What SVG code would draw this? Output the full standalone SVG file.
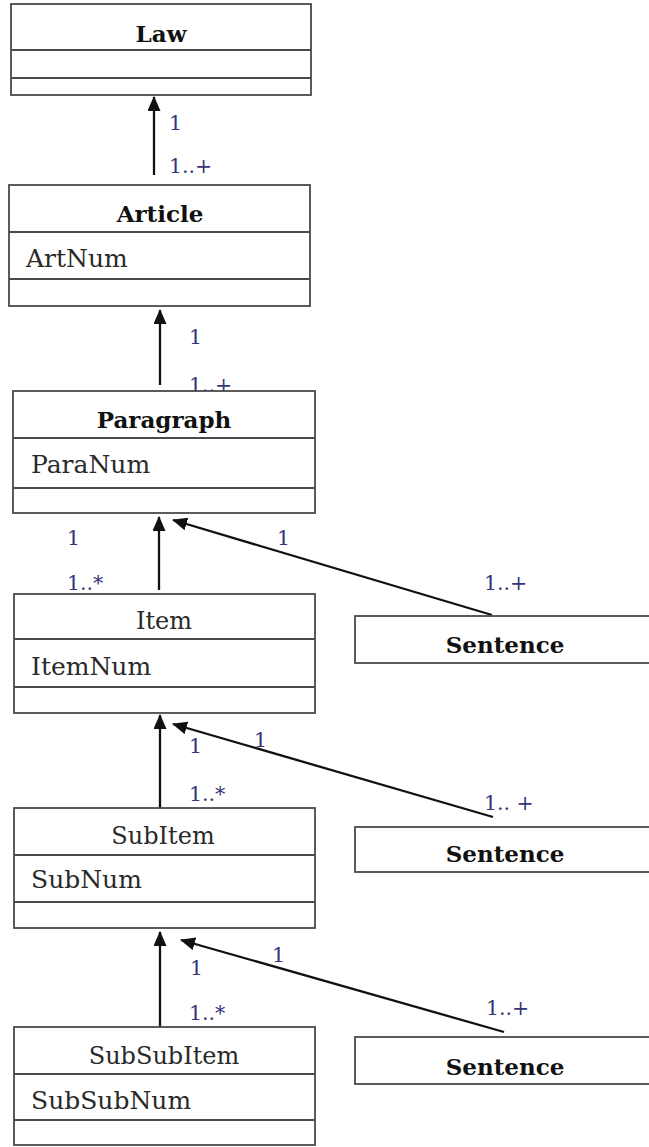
<svg xmlns="http://www.w3.org/2000/svg" width="649" height="1147" viewBox="0 0 649 1147">
  <style>
    .box { fill: #ffffff; stroke: #4a4a4a; stroke-width: 1.8; }
    .div { stroke: #4a4a4a; stroke-width: 1.8; }
    .title { font-family: "DejaVu Serif", "Liberation Serif", serif; font-size: 23px; font-weight: bold; fill: #111111; text-anchor: middle; }
    .name { font-family: "DejaVu Serif", "Liberation Serif", serif; font-size: 24px; fill: #2a2a2a; text-anchor: middle; }
    .attr { font-family: "DejaVu Serif", "Liberation Serif", serif; font-size: 25px; fill: #2a2a2a; }
    .mult { font-family: "DejaVu Serif", "Liberation Serif", serif; font-size: 20.5px; fill: #35357a; }
    .edge { stroke: #111111; stroke-width: 2.3; fill: none; marker-end: url(#head); }
  </style>
  <defs>
    <marker id="head" markerUnits="userSpaceOnUse" markerWidth="15" markerHeight="13" refX="14" refY="6.5" orient="auto">
      <path d="M0,0 L15,6.5 L0,13 z" fill="#111111"/>
    </marker>
  </defs>

  <rect width="649" height="1147" fill="#ffffff"/>

  <!-- associations: child -> parent, with multiplicities -->
  <g id="connectors">
    <line class="edge" x1="154" y1="175" x2="154" y2="97"/>
    <line class="edge" x1="160" y1="385" x2="160" y2="310"/>
    <line class="edge" x1="159" y1="590" x2="159" y2="517"/>
    <line class="edge" x1="492" y1="615" x2="173" y2="520"/>
    <line class="edge" x1="160" y1="808" x2="160" y2="715"/>
    <line class="edge" x1="493" y1="817" x2="173" y2="724"/>
    <line class="edge" x1="160" y1="1027" x2="160" y2="932"/>
    <line class="edge" x1="504" y1="1032" x2="181" y2="940"/>

    <text class="mult" x="169" y="130">1</text>
    <text class="mult" x="169" y="173">1..+</text>
    <text class="mult" x="189" y="344">1</text>
    <text class="mult" x="189" y="392">1..+</text>
    <text class="mult" x="67" y="545">1</text>
    <text class="mult" x="67" y="590">1..*</text>
    <text class="mult" x="277" y="545">1</text>
    <text class="mult" x="484" y="590">1..+</text>
    <text class="mult" x="189" y="753">1</text>
    <text class="mult" x="254" y="747">1</text>
    <text class="mult" x="189" y="801">1..*</text>
    <text class="mult" x="484" y="810">1.. +</text>
    <text class="mult" x="190" y="975">1</text>
    <text class="mult" x="272" y="962">1</text>
    <text class="mult" x="189" y="1020">1..*</text>
    <text class="mult" x="486" y="1015">1..+</text>
  </g>

  <g id="law">
    <rect class="box" x="11" y="4" width="300" height="91"/>
    <line class="div" x1="11" y1="50" x2="311" y2="50"/>
    <line class="div" x1="11" y1="78" x2="311" y2="78"/>
    <text class="title" x="161" y="42">Law</text>
  </g>

  <g id="article">
    <rect class="box" x="9" y="185" width="301" height="121"/>
    <line class="div" x1="9" y1="232" x2="310" y2="232"/>
    <line class="div" x1="9" y1="279" x2="310" y2="279"/>
    <text class="title" x="160" y="222">Article</text>
    <text class="attr" x="26" y="267">ArtNum</text>
  </g>

  <g id="paragraph">
    <rect class="box" x="13" y="391" width="302" height="122"/>
    <line class="div" x1="13" y1="438" x2="315" y2="438"/>
    <line class="div" x1="13" y1="488" x2="315" y2="488"/>
    <text class="title" x="164" y="428">Paragraph</text>
    <text class="attr" x="31" y="473">ParaNum</text>
  </g>

  <g id="item">
    <rect class="box" x="14" y="594" width="301" height="119"/>
    <line class="div" x1="14" y1="639" x2="315" y2="639"/>
    <line class="div" x1="14" y1="687" x2="315" y2="687"/>
    <text class="name" x="164" y="629">Item</text>
    <text class="attr" x="31" y="675">ItemNum</text>
  </g>

  <g id="sentence-1">
    <rect class="box" x="355" y="616" width="310" height="47"/>
    <text class="title" x="505" y="653">Sentence</text>
  </g>

  <g id="subitem">
    <rect class="box" x="14" y="808" width="301" height="120"/>
    <line class="div" x1="14" y1="855" x2="315" y2="855"/>
    <line class="div" x1="14" y1="902" x2="315" y2="902"/>
    <text class="name" x="163" y="844">SubItem</text>
    <text class="attr" x="31" y="888">SubNum</text>
  </g>

  <g id="sentence-2">
    <rect class="box" x="355" y="827" width="310" height="45"/>
    <text class="title" x="505" y="862">Sentence</text>
  </g>

  <g id="subsubitem">
    <rect class="box" x="14" y="1027" width="301" height="118"/>
    <line class="div" x1="14" y1="1074" x2="315" y2="1074"/>
    <line class="div" x1="14" y1="1120" x2="315" y2="1120"/>
    <text class="name" x="164" y="1064">SubSubItem</text>
    <text class="attr" x="31" y="1109">SubSubNum</text>
  </g>

  <g id="sentence-3">
    <rect class="box" x="355" y="1037" width="310" height="47"/>
    <text class="title" x="505" y="1075">Sentence</text>
  </g>
</svg>
